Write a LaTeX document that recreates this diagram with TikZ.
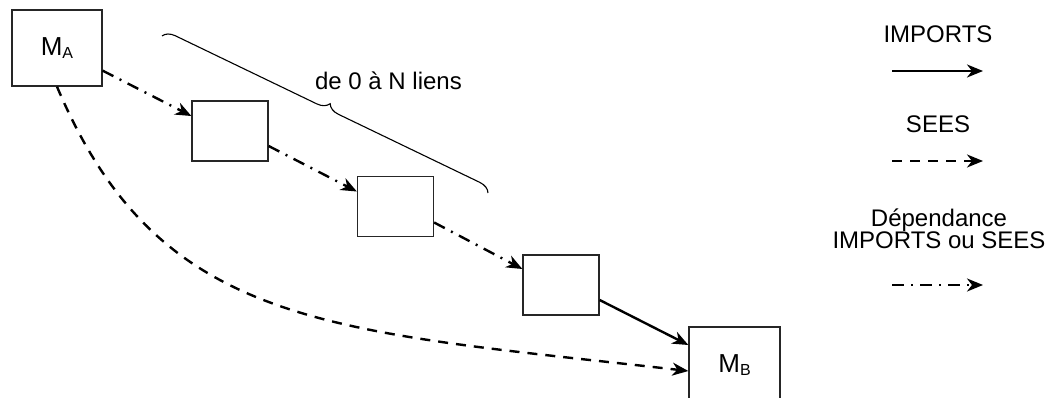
\documentclass[tikz,border=0pt]{standalone}
\usepackage{fontspec}
\setmainfont{Liberation Sans}
\usetikzlibrary{arrows.meta,decorations.pathreplacing}

\begin{document}
\begin{tikzpicture}[x=1pt,y=-1pt,
  box/.style={draw=black!85, line width=1.3pt, fill=white, inner sep=0pt},
  modbox/.style={box, minimum width=90pt, minimum height=76pt},
  linkbox/.style={box, minimum width=76pt, minimum height=60pt},
  conn/.style={line width=2.4pt, -{Stealth[length=16pt,width=13pt,inset=5pt]}},
  imports/.style={conn},
  sees/.style={conn, dash pattern=on 10pt off 8pt},
  either/.style={conn, dash pattern=on 12pt off 7pt on 2pt off 7pt},
  lbl/.style={font=\fontsize{24}{20}\selectfont, inner sep=0pt, anchor=base},
  modname/.style={font=\fontsize{26}{28}\selectfont},
]
\clip (0,0) rectangle (1049,398);

% modules and intermediate links
\node[modbox, modname] (ma) at (57,48)
  {M\raisebox{-3pt}{\fontsize{16}{18}\selectfont A}};
\node[linkbox] (b1) at (230,131) {};
\node[linkbox] (b2) at (395.5,206.5) {};
\node[linkbox] (b3) at (561,285) {};
\node[modbox, modname, minimum width=91pt] (mb) at (734.5,365)
  {M\raisebox{-3pt}{\fontsize{16}{18}\selectfont B}};

% chain of dependencies
\draw[either] ([yshift=16pt]ma.south east) -- ([yshift=15pt]b1.west);
\draw[either] ([yshift=-15pt]b1.east) -- ([yshift=15pt]b2.west);
\draw[either] ([yshift=-16pt]b2.east) -- ([yshift=16pt]b3.west);
\draw[imports] ([yshift=-15pt]b3.east) -- ([yshift=20pt]mb.west);

% direct SEES link
\draw[sees] (ma.south) .. controls (160,330) and (330,330) .. ([yshift=-6pt]mb.west);

% brace over the chain
\coordinate (brA) at (162,36);
\coordinate (brB) at (488,193);
\draw[line width=1.1pt, decorate, decoration={brace, amplitude=12pt}] (brA) -- (brB);
\node[lbl] (span) at (388.5,90) {de 0 à N liens};

% legend
\node[lbl] (limp) at (938,43) {IMPORTS};
\coordinate (i0) at (892,71);
\coordinate (i1) at (983,71);
\draw[imports] (i0) -- (i1);

\node[lbl] (lsee) at (938,133) {SEES};
\coordinate (s0) at (892,161);
\coordinate (s1) at (983,161);
\draw[sees] (s0) -- (s1);

\node[lbl] (ldep) at (939,226) {Dépendance};
\node[lbl] (lor) at (939,248) {IMPORTS ou SEES};
\coordinate (e0) at (892,285);
\coordinate (e1) at (983,285);
\draw[either] (e0) -- (e1);
\end{tikzpicture}
\end{document}
